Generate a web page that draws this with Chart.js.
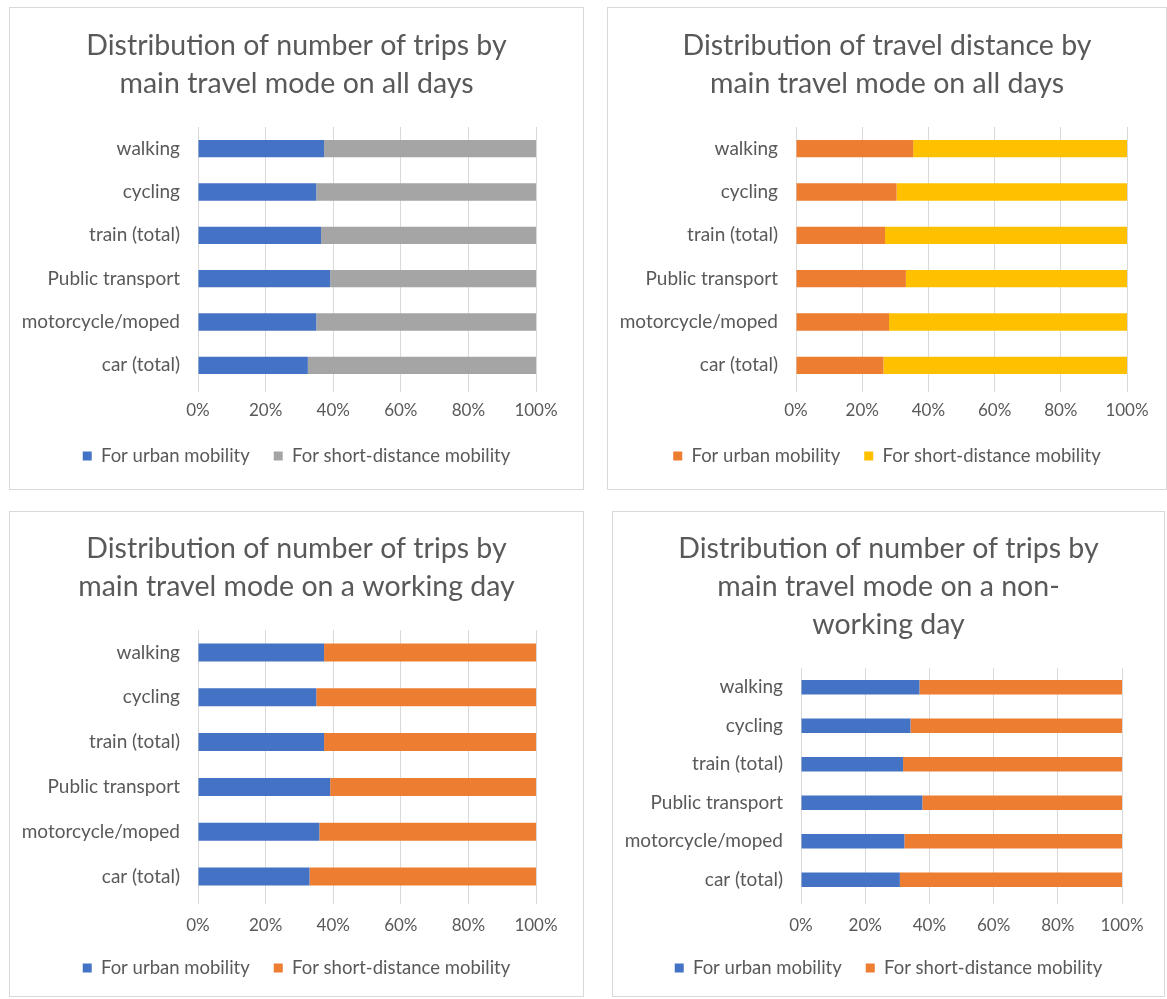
<!DOCTYPE html>
<html>
<head>
<meta charset="utf-8">
<script src="https://cdn.jsdelivr.net/npm/chart.js@4.4.1/dist/chart.umd.min.js"></script>
<style>
  body { margin: 0; background: #fff; width: 1167px; height: 999px; position: relative; overflow: hidden; }
  .panel { position: absolute; border: 1px solid #d9d9d9; box-sizing: border-box; background: #fff; }
  .panel canvas { display: block; }
</style>
</head>
<body>
<div class="panel" style="left:9px;top:7px;width:575px;height:483px"><canvas id="c1" width="573" height="481"></canvas></div>
<div class="panel" style="left:607px;top:7px;width:560px;height:483px"><canvas id="c2" width="558" height="481"></canvas></div>
<div class="panel" style="left:9px;top:511px;width:575px;height:486px"><canvas id="c3" width="573" height="484"></canvas></div>
<div class="panel" style="left:612px;top:511px;width:553px;height:486px"><canvas id="c4" width="551" height="484"></canvas></div>

<script>
// categories, top to bottom
const modes = ['walking', 'cycling', 'train (total)', 'Public transport', 'motorcycle/moped', 'car (total)'];
const seriesNames = ['For urban mobility', 'For short-distance mobility'];
const percentTicks = [0, 20, 40, 60, 80, 100];

// shares in %
const tripsAllUrban = [37.3, 35.0, 36.4, 39.1, 35.0, 32.5];
const tripsAllShort = [62.7, 65.0, 63.6, 60.9, 65.0, 67.5];
const distAllUrban = [35.4, 30.4, 26.9, 33.2, 28.1, 26.4];
const distAllShort = [64.6, 69.6, 73.1, 66.8, 71.9, 73.6];
const tripsWorkUrban = [37.3, 35.0, 37.3, 39.1, 35.9, 33.0];
const tripsWorkShort = [62.7, 65.0, 62.7, 60.9, 64.1, 67.0];
const tripsFreeUrban = [36.9, 34.1, 31.8, 37.8, 32.2, 30.8];
const tripsFreeShort = [63.1, 65.9, 68.2, 62.2, 67.8, 69.2];

const title1 = ['Distribution of number of trips by', 'main travel mode on all days'];
const title2 = ['Distribution of travel distance by', 'main travel mode on all days'];
const title3 = ['Distribution of number of trips by', 'main travel mode on a working day'];
const title4 = ['Distribution of number of trips by', 'main travel mode on a non-', 'working day'];

const BLUE = '#4472C4', GREY = '#A5A5A5', ORANGE = '#ED7D31', YELLOW = '#FFC000';
const TEXT = '#595959';
const FONT = 'Lato, "Open Sans", sans-serif';
const TITLE_SIZE = 28.5, TITLE_LH = 38;
const LABEL_SIZE = 19, TICK_SIZE = 17, LEGEND_SIZE = 18.5, LEGEND_PAD = 24;
const Y_AXIS_W = 188;

function makeChart(id, titleLines, urban, short, colors, L) {
    const canvas = document.getElementById(id);
    const H = canvas.height;
    const titlePadTop = L.titleY - TITLE_LH / 2;
    const titlePadBottom = L.plotTop - titlePadTop - titleLines.length * TITLE_LH;
    const legendTop = L.legendY - LEGEND_PAD - LEGEND_SIZE / 2;
    const legendH = LEGEND_SIZE + LEGEND_PAD + 10;
    const xAxisH = legendTop - L.plotBottom;
    const padBottom = H - legendTop - legendH;

    return new Chart(canvas, {
        type: 'bar',
        data: {
            labels: modes,
            datasets: [{
                label: seriesNames[0],
                data: urban,
                backgroundColor: colors[0],
                borderWidth: 0
            }, {
                label: seriesNames[1],
                data: short,
                backgroundColor: colors[1],
                borderWidth: 0
            }]
        },
        options: {
            indexAxis: 'y',
            responsive: false,
            animation: false,
            events: [],
            categoryPercentage: 1,
            barPercentage: L.bar,
            layout: { padding: { top: 0, left: 0, right: 0, bottom: padBottom } },
            plugins: {
                title: {
                    display: true,
                    text: titleLines,
                    color: TEXT,
                    font: { family: FONT, size: TITLE_SIZE, weight: 'normal', lineHeight: TITLE_LH + 'px' },
                    padding: { top: titlePadTop, bottom: titlePadBottom }
                },
                legend: {
                    position: 'bottom',
                    labels: {
                        color: TEXT,
                        font: { family: FONT, size: LEGEND_SIZE },
                        boxWidth: 9,
                        boxHeight: 9,
                        padding: LEGEND_PAD
                    }
                },
                tooltip: { enabled: false }
            },
            scales: {
                x: {
                    stacked: true,
                    min: 0,
                    max: 100,
                    afterBuildTicks: s => { s.ticks = percentTicks.map(v => ({ value: v })); },
                    ticks: {
                        color: TEXT,
                        font: { family: FONT, size: TICK_SIZE },
                        padding: L.tickPad,
                        maxRotation: 0,
                        autoSkip: false,
                        callback: v => v + '%'
                    },
                    grid: { color: '#d9d9d9', drawTicks: true, tickLength: 5 },
                    border: { display: false },
                    afterFit: s => { s.height = xAxisH; }
                },
                y: {
                    stacked: true,
                    ticks: {
                        color: TEXT,
                        font: { family: FONT, size: LABEL_SIZE },
                        padding: 18
                    },
                    grid: { display: false, drawTicks: false },
                    border: { display: false },
                    afterFit: s => { s.width = Y_AXIS_W; }
                },
                // empty right-hand axis that only reserves space, so title and legend stay centred
                pad: {
                    type: 'linear',
                    position: 'right',
                    ticks: { display: false },
                    grid: { display: false, drawTicks: false },
                    border: { display: false },
                    afterFit: s => { s.width = L.padRight; }
                }
            }
        }
    });
}

makeChart('c1', title1, tripsAllUrban, tripsAllShort, [BLUE, GREY],
    { plotTop: 119, plotBottom: 379, titleY: 38, legendY: 448, padRight: 47, tickPad: 8, bar: 0.4 });
makeChart('c2', title2, distAllUrban, distAllShort, [ORANGE, YELLOW],
    { plotTop: 119, plotBottom: 379, titleY: 38, legendY: 448, padRight: 39, tickPad: 8, bar: 0.4 });
makeChart('c3', title3, tripsWorkUrban, tripsWorkShort, [BLUE, ORANGE],
    { plotTop: 118, plotBottom: 387, titleY: 37, legendY: 456, padRight: 47, tickPad: 11, bar: 0.4 });
makeChart('c4', title4, tripsFreeUrban, tripsFreeShort, [BLUE, ORANGE],
    { plotTop: 156, plotBottom: 387, titleY: 37, legendY: 456, padRight: 42, tickPad: 11, bar: 0.38 });
</script>
</body>
</html>
